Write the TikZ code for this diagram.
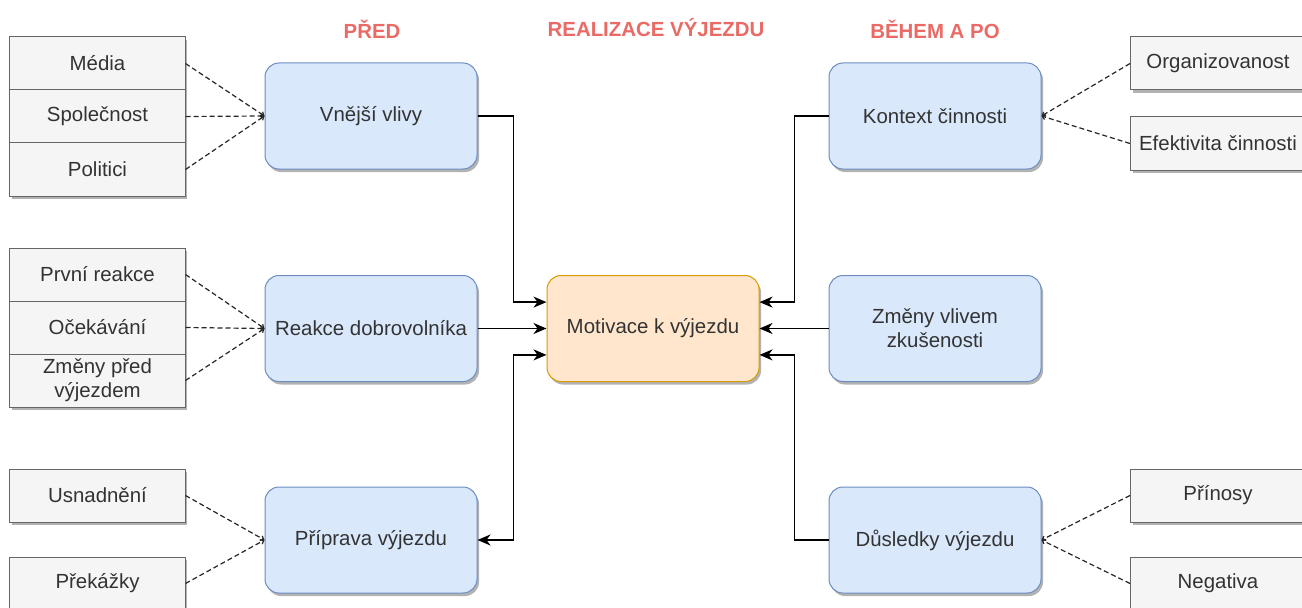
\documentclass[tikz,border=0pt]{standalone}
\usepackage{fontspec}
\setmainfont{Liberation Sans}
\usetikzlibrary{arrows.meta,shadows}
\definecolor{grayfill}{HTML}{F5F5F5}
\definecolor{grayline}{HTML}{666666}
\definecolor{bluefill}{HTML}{DAE8FC}
\definecolor{blueline}{HTML}{6C8EBF}
\definecolor{orfill}{HTML}{FFE6CC}
\definecolor{orline}{HTML}{D79B00}
\definecolor{titlered}{HTML}{EA6B66}
\definecolor{txt}{HTML}{333333}
\begin{document}
\begin{tikzpicture}[x=1bp,y=1bp,
  every node/.style={font=\fontsize{20.5}{24}\selectfont, text=txt},
  shd/.style={drop shadow={shadow xshift=2bp,shadow yshift=-3bp,opacity=0.3,fill=black}},
  item/.style={draw=grayline, fill=grayfill, line width=1bp, minimum width=175bp, minimum height=53bp, inner sep=0pt, align=center, shd},
  blk/.style={draw=blueline, fill=bluefill, rounded corners=14bp, line width=1bp, minimum width=212bp, minimum height=106bp, inner sep=0pt, align=center, shd},
  core/.style={blk, draw=orline, fill=orfill},
  ttl/.style={font=\fontsize{20.5}{24}\selectfont\bfseries, text=titlered},
  tip/.tip={Stealth[length=13bp,width=11bp,inset=4bp]},
  arr/.style={line width=1.8bp, draw=black, -tip},
  arrboth/.style={line width=1.8bp, draw=black, tip-tip},
  dsh/.style={line width=1.2bp, draw=black!85, dash pattern=on 5bp off 3bp, -{Straight Barb[length=3bp,width=5bp]}}
]
\useasboundingbox (0,0) rectangle (1302,-608);
\fill[white] (0,0) rectangle (1302,-608);
\clip (0,0) rectangle (1302,-608);

% titles
\node[ttl] (t1) at (372,-29) {PŘED};
\node[ttl] (t2) at (656,-28) {REALIZACE VÝJEZDU};
\node[ttl] (t3) at (935,-29) {BĚHEM A PO};

% left gray items
\node[item] (media) at (97.5,-63.5) {Média};
\node[item] (spol) at (97.5,-116.5) {Společnost};
\node[item] (polit) at (97.5,-169.5) {Politici};
\node[item] (prvni) at (97.5,-274.5) {První reakce};
\node[item] (ocek) at (97.5,-327.5) {Očekávání};
\node[item] (zmpred) at (97.5,-380.5) {Změny před\\výjezdem};
\node[item] (usn) at (97.5,-495.5) {Usnadnění};
\node[item] (prek) at (97.5,-583.5) {Překážky};

% right gray items
\node[item] (org) at (1218,-63.5) {Organizovanost};
\node[item] (efek) at (1218,-143.5) {Efektivita činnosti};
\node[item] (prin) at (1218,-495.5) {Přínosy};
\node[item] (neg) at (1218,-583.5) {Negativa};

% blue blocks
\node[blk] (vv) at (371,-116) {Vnější vlivy};
\node[blk] (rd) at (371,-328.5) {Reakce dobrovolníka};
\node[blk] (pv) at (371,-540) {Příprava výjezdu};
\node[core] (mot) at (653,-328.5) {Motivace k výjezdu};
\node[blk] (kc) at (935,-116) {Kontext činnosti};
\node[blk] (zv) at (935,-328.5) {Změny vlivem\\zkušenosti};
\node[blk] (dv) at (935,-540) {Důsledky výjezdu};

% dashed connectors
\draw[dsh] (media.east) -- (vv.west);
\draw[dsh] (spol.east) -- (vv.west);
\draw[dsh] (polit.east) -- (vv.west);
\draw[dsh] (prvni.east) -- (rd.west);
\draw[dsh] (ocek.east) -- (rd.west);
\draw[dsh] (zmpred.east) -- (rd.west);
\draw[dsh] (usn.east) -- (pv.west);
\draw[dsh] (prek.east) -- (pv.west);
\draw[dsh] (org.west) -- (kc.east);
\draw[dsh] (efek.west) -- (kc.east);
\draw[dsh] (prin.west) -- (dv.east);
\draw[dsh] (neg.west) -- (dv.east);

% solid connectors
\draw[arr] (vv.east) -- ++(36,0) |- ([yshift=26.5]mot.west);
\draw[arr] (rd.east) -- (mot.west);
\draw[arrboth] (pv.east) -- ++(36,0) |- ([yshift=-26.5]mot.west);
\draw[arr] (kc.west) -- ++(-34,0) |- ([yshift=26.5]mot.east);
\draw[arr] (zv.west) -- (mot.east);
\draw[arr] (dv.west) -- ++(-34,0) |- ([yshift=-26.5]mot.east);
\end{tikzpicture}
\end{document}
